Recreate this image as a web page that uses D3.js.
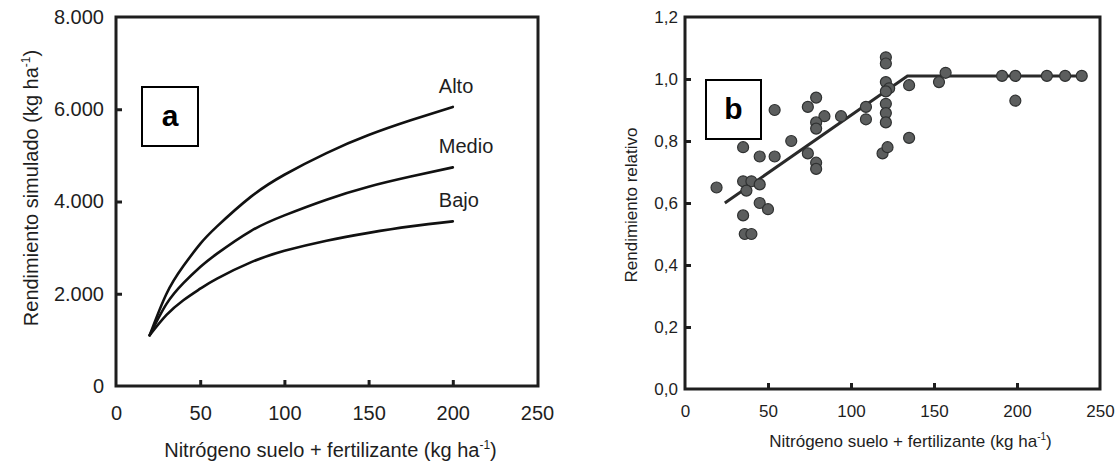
<!DOCTYPE html>
<html lang="es">
<head>
    <meta charset="UTF-8">
    <title>Rendimiento y nitrógeno</title>
    <style>
        body { margin: 0; background: #fff; }
        svg { display: block; font-family: "Liberation Sans", Arial, Helvetica, sans-serif; }
    </style>
</head>
<body>
    <svg id="container" width="1118" height="469"></svg>

<script src="https://cdn.jsdelivr.net/npm/d3@7/dist/d3.min.js"></script>
<script>
    // ---- panel a: simulated yield curves ----
    let nitrogenA = [20, 30, 40, 50, 60, 80, 100, 125, 150, 175, 200]
    let alto  = [1100, 2000, 2600, 3080, 3460, 4100, 4580, 5050, 5440, 5760, 6050]
    let medio = [1100, 1780, 2230, 2580, 2870, 3360, 3700, 4040, 4320, 4540, 4740]
    let bajo  = [1100, 1540, 1860, 2110, 2330, 2680, 2930, 3150, 3320, 3460, 3570]
    let seriesNames = ["Alto", "Medio", "Bajo"]
    let xTicksA = [0, 50, 100, 150, 200, 250]
    let yTicksA = [0, 2000, 4000, 6000, 8000]

    // ---- panel b: relative yield observations ----
    let obsN = [19, 35, 41, 45, 54, 54, 64, 35, 40, 37, 45, 45, 50, 35, 36, 40,
                74, 79, 84, 79, 79, 74, 79, 79, 94, 109, 109,
                121, 121, 121, 123, 121, 121, 121, 121, 119, 122, 135, 135,
                153, 157, 191, 199, 218, 229, 239, 199]
    let obsR = [0.65, 0.78, 0.85, 0.75, 0.75, 0.90, 0.80, 0.67, 0.67, 0.64, 0.66, 0.60, 0.58, 0.56, 0.50, 0.50,
                0.91, 0.94, 0.88, 0.86, 0.84, 0.76, 0.73, 0.71, 0.88, 0.91, 0.87,
                1.07, 1.05, 0.99, 0.97, 0.96, 0.92, 0.89, 0.86, 0.76, 0.78, 0.98, 0.81,
                0.99, 1.02, 1.01, 1.01, 1.01, 1.01, 1.01, 0.93]
    let fitN = [24, 134, 240]
    let fitR = [0.60, 1.01, 1.01]
    let xTicksB = [0, 50, 100, 150, 200, 250]
    let yTicksB = [0, 0.2, 0.4, 0.6, 0.8, 1.0, 1.2]

    let es = d3.formatLocale({decimal: ",", thousands: ".", grouping: [3], currency: ["", ""]})
    let ink = "#1e1e1e"
    let svg = d3.select("#container")

    // panel a
    let xA = d3.scaleLinear().domain([0, 250]).range([116, 537])
    let yA = d3.scaleLinear().domain([0, 8000]).range([386, 17])
    let gA = svg.append("g").attr("font-size", 20).attr("fill", ink)

    let axA_x = gA.append("g").attr("transform", `translate(0,${yA(0)})`)
        .call(d3.axisBottom(xA).tickValues(xTicksA).tickSizeInner(-6).tickSizeOuter(0).tickPadding(20))
    let axA_y = gA.append("g").attr("transform", `translate(${xA(0)},0)`)
        .call(d3.axisLeft(yA).tickValues(yTicksA).tickSizeInner(-6).tickSizeOuter(0).tickPadding(12)
            .tickFormat(es.format(",")))

    for (let ax of [axA_x, axA_y]) {
        ax.attr("font-size", 20).attr("font-family", null)
        ax.select(".domain").remove()
        ax.selectAll(".tick line").attr("stroke", ink).attr("stroke-width", 3)
        ax.selectAll(".tick text").attr("fill", ink)
    }
    axA_x.selectAll(".tick").filter(d => d == 0 || d == 250).select("line").remove()
    axA_y.selectAll(".tick").filter(d => d == 0 || d == 8000).select("line").remove()

    gA.append("rect")
        .attr("x", xA(0)).attr("y", yA(8000))
        .attr("width", xA(250) - xA(0) + 1).attr("height", yA(0) - yA(8000))
        .attr("fill", "none").attr("stroke", ink).attr("stroke-width", 3)

    let lineA = d3.line().x(d => xA(d[0])).y(d => yA(d[1])).curve(d3.curveNatural)
    let seriesA = [alto, medio, bajo]
    seriesA.forEach((vals, i) => {
        let pts = nitrogenA.map((n, j) => [n, vals[j]])
        gA.append("path").attr("d", lineA(pts))
            .attr("fill", "none").attr("stroke", "#111").attr("stroke-width", 2.6)
            .attr("stroke-linecap", "round")
        gA.append("text")
            .attr("x", xA(200) - 14)
            .attr("y", yA(vals[vals.length - 1]) - 14)
            .text(seriesNames[i])
    })

    gA.append("text")
        .attr("x", (xA(0) + xA(250)) / 2 + 4).attr("y", 457)
        .attr("text-anchor", "middle")
        .html('Nitrógeno suelo + fertilizante (kg ha<tspan dy="-8" font-size="12">-1</tspan><tspan dy="8">)</tspan>')
    gA.append("text")
        .attr("transform", "translate(38,188) rotate(-90)")
        .attr("text-anchor", "middle")
        .html('Rendimiento simulado (kg ha<tspan dy="-8" font-size="12">-1</tspan><tspan dy="8">)</tspan>')

    gA.append("rect").attr("x", 142).attr("y", 87).attr("width", 56).attr("height", 59)
        .attr("fill", "#fff").attr("stroke", "#000").attr("stroke-width", 2)
    gA.append("text").attr("x", 170).attr("y", 126).attr("text-anchor", "middle")
        .attr("font-size", 30).attr("font-weight", "bold").attr("fill", "#000").text("a")

    // panel b
    let xB = d3.scaleLinear().domain([0, 250]).range([685, 1100])
    let yB = d3.scaleLinear().domain([0, 1.2]).range([389, 17])
    let gB = svg.append("g").attr("font-size", 17).attr("fill", ink)

    let axB_x = gB.append("g").attr("transform", `translate(0,${yB(0)})`)
        .call(d3.axisBottom(xB).tickValues(xTicksB).tickSizeInner(-6).tickSizeOuter(0).tickPadding(16))
    let axB_y = gB.append("g").attr("transform", `translate(${xB(0)},0)`)
        .call(d3.axisLeft(yB).tickValues(yTicksB).tickSizeInner(-6).tickSizeOuter(0).tickPadding(7)
            .tickFormat(es.format(".1f")))

    for (let ax of [axB_x, axB_y]) {
        ax.attr("font-size", 17).attr("font-family", null)
        ax.select(".domain").remove()
        ax.selectAll(".tick line").attr("stroke", ink).attr("stroke-width", 3)
        ax.selectAll(".tick text").attr("fill", ink)
    }
    axB_x.selectAll(".tick").filter(d => d == 0 || d == 250).select("line").remove()
    axB_y.selectAll(".tick").filter(d => d == 0 || d == 1.2).select("line").remove()

    gB.append("rect")
        .attr("x", xB(0)).attr("y", yB(1.2))
        .attr("width", xB(250) - xB(0)).attr("height", yB(0) - yB(1.2))
        .attr("fill", "none").attr("stroke", ink).attr("stroke-width", 3)

    let lineB = d3.line().x(d => xB(d[0])).y(d => yB(d[1]))
    gB.append("path").attr("d", lineB(fitN.map((n, i) => [n, fitR[i]])))
        .attr("fill", "none").attr("stroke", "#2a2a2a").attr("stroke-width", 3)

    gB.selectAll("circle").data(obsN.map((n, i) => [n, obsR[i]]))
        .enter().append("circle")
        .attr("cx", d => xB(d[0]))
        .attr("cy", d => yB(d[1]))
        .attr("r", 5.5)
        .attr("fill", "#5c5e5e")
        .attr("stroke", "#2f3131")
        .attr("stroke-width", 1.2)

    gB.append("text")
        .attr("x", (xB(0) + xB(250)) / 2 + 18).attr("y", 447)
        .attr("text-anchor", "middle")
        .html('Nitrógeno suelo + fertilizante (kg ha<tspan dy="-7" font-size="10">-1</tspan><tspan dy="7">)</tspan>')
    gB.append("text")
        .attr("transform", "translate(637,205) rotate(-90)")
        .attr("text-anchor", "middle")
        .text("Rendimiento relativo")

    gB.append("rect").attr("x", 706).attr("y", 80).attr("width", 55).attr("height", 59)
        .attr("fill", "#fff").attr("stroke", "#000").attr("stroke-width", 2)
    gB.append("text").attr("x", 733.5).attr("y", 119).attr("text-anchor", "middle")
        .attr("font-size", 30).attr("font-weight", "bold").attr("fill", "#000").text("b")
</script>
</body>
</html>
